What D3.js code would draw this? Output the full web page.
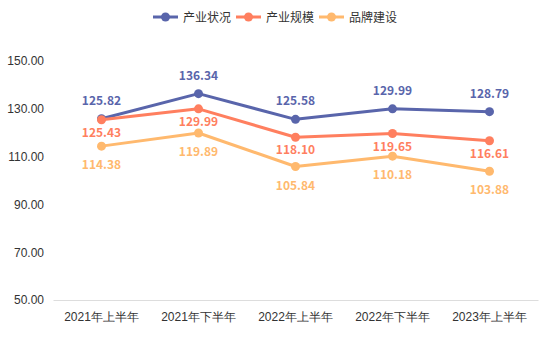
<!DOCTYPE html>
<html><head><meta charset="utf-8">
<script src="https://cdn.jsdelivr.net/npm/d3@7"></script>
<style>body{margin:0;background:#fff;}svg{display:block;font-family:"Noto Sans CJK SC","Noto Sans",sans-serif;}</style>
</head><body><svg id="c" width="554" height="342"></svg>
<script>
const categories = ["2021年上半年","2021年下半年","2022年上半年","2022年下半年","2023年上半年"];
const seriesNames = ["产业状况","产业规模","品牌建设"];
const industryStatus = [125.82,136.34,125.58,129.99,128.79];
const industryScale = [125.43,129.99,118.10,119.65,116.61];
const brandBuilding = [114.38,119.89,105.84,110.18,103.88];
const yTicks = [50,70,90,110,130,150];
const colors = ["#5965AB","#FF7F5F","#FFB96E"];
const labelOffsets = [-14, 17, 23];
const seriesData = [industryStatus, industryScale, brandBuilding];

const svg = d3.select("#c");
const m = {left:53, right:16, top:61, bottom:42};
const W = 554, H = 342;
const x = d3.scaleBand().domain(categories).range([m.left, W-m.right]);
const y = d3.scaleLinear().domain([50,150]).range([H-m.bottom, m.top]);

// y axis labels
const yAxis = d3.axisLeft(y).tickValues(yTicks).tickFormat(d=>d.toFixed(2)).tickSize(0).tickPadding(9);
const yg = svg.append("g").attr("transform",`translate(${m.left},0)`).call(yAxis);
yg.select(".domain").remove();
yg.selectAll("text").attr("fill","#333").style("font-size","12px");

// x axis
const xAxis = d3.axisBottom(x).tickSize(0).tickPadding(12);
const xg = svg.append("g").attr("transform",`translate(0,${H-m.bottom})`).call(xAxis);
xg.select(".domain").attr("stroke","#ddd");
xg.selectAll("text").attr("fill","#333").style("font-size","12px");

const cx = d => x(d) + x.bandwidth()/2;
const line = d3.line().x((d,i)=>cx(categories[i])).y(d=>y(d));

seriesData.forEach((data, s) => {
  svg.append("path").datum(data).attr("d", line).attr("fill","none")
    .attr("stroke", colors[s]).attr("stroke-width", 3).attr("stroke-linejoin","round");
  svg.selectAll(null).data(data).enter().append("circle")
    .attr("cx",(d,i)=>cx(categories[i])).attr("cy",d=>y(d)).attr("r",4.5).attr("fill",colors[s]);
  svg.selectAll(null).data(data).enter().append("text")
    .attr("x",(d,i)=>cx(categories[i]))
    .attr("y",d=> y(d)+labelOffsets[s])
    .attr("text-anchor","middle").attr("fill",colors[s])
    .style("font-size","12px").style("font-weight","bold")
    .text(d=>d.toFixed(2));
});

// legend
const legend = svg.append("g");
const itemW = [83, 83, 80];
let lx = 153;
seriesNames.forEach((n, s) => {
  const g = legend.append("g").attr("transform",`translate(${lx},17)`);
  g.append("line").attr("x1",0).attr("x2",25).attr("stroke",colors[s]).attr("stroke-width",3);
  g.append("circle").attr("cx",12.5).attr("r",4.5).attr("fill",colors[s]);
  g.append("text").attr("x",30).attr("y",4.5).attr("fill","#333").style("font-size","12px").text(n);
  lx += itemW[s];
});
</script></body></html>
